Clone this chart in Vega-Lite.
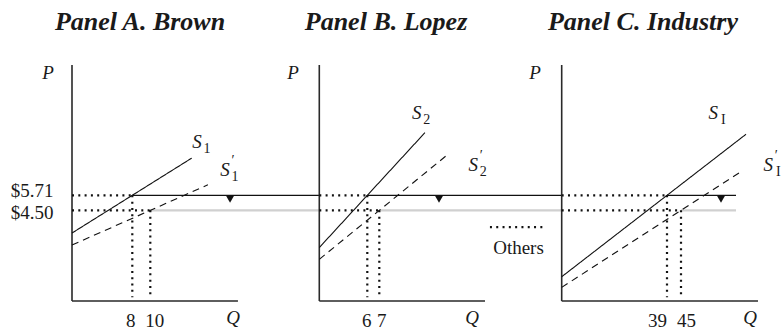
{
  "$schema": "https://vega.github.io/schema/vega-lite/v6.json",
  "width": 710,
  "height": 301,
  "autosize": {"type": "none"},
  "padding": {"left": 72, "top": 0, "right": 0, "bottom": 31},
  "background": "white",
  "config": {
    "font": "Liberation Serif",
    "view": {"stroke": null},
    "text": {"font": "Liberation Serif", "color": "#1a1a1a"},
    "axis": {"labelFont": "Liberation Serif", "labelColor": "#1a1a1a"}
  },
  "datasets": {
    "segments": [
      {"panel": "A", "kind": "subsidy", "q": 10, "p": 4.5, "q2": 28.78, "p2": 4.5},
      {"panel": "A", "kind": "axis", "q": 1.3, "p": -2.81, "q2": 1.3, "p2": 16.22},
      {"panel": "A", "kind": "axis", "q": 1.3, "p": -2.81, "q2": 19.74, "p2": -2.81},
      {"panel": "A", "kind": "price", "q": 8, "p": 5.71, "q2": 28.78, "p2": 5.71},
      {"panel": "A", "kind": "guide", "q": 1.3, "p": 5.71, "q2": 8, "p2": 5.71},
      {"panel": "A", "kind": "guide", "q": 1.3, "p": 4.5, "q2": 10, "p2": 4.5},
      {"panel": "A", "kind": "guide", "q": 8, "p": 5.71, "q2": 8, "p2": -2.5},
      {"panel": "A", "kind": "guide", "q": 10, "p": 4.5, "q2": 10, "p2": -2.5},
      {"panel": "A", "kind": "supply", "q": 1.3, "p": 2.67, "q2": 14.6, "p2": 8.71},
      {"panel": "A", "kind": "shifted", "q": 1.3, "p": 1.7, "q2": 16.4, "p2": 6.56},
      {"panel": "B", "kind": "subsidy", "q": 7, "p": 4.5, "q2": 22.225, "p2": 4.5},
      {"panel": "B", "kind": "axis", "q": 2, "p": -2.81, "q2": 2, "p2": 16.22},
      {"panel": "B", "kind": "axis", "q": 2, "p": -2.81, "q2": 15.81, "p2": -2.81},
      {"panel": "B", "kind": "price", "q": 6, "p": 5.71, "q2": 22.225, "p2": 5.71},
      {"panel": "B", "kind": "guide", "q": 2, "p": 5.71, "q2": 6, "p2": 5.71},
      {"panel": "B", "kind": "guide", "q": 2, "p": 4.5, "q2": 7, "p2": 4.5},
      {"panel": "B", "kind": "guide", "q": 6, "p": 5.71, "q2": 6, "p2": -2.5},
      {"panel": "B", "kind": "guide", "q": 7, "p": 4.5, "q2": 7, "p2": -2.5},
      {"panel": "B", "kind": "guide", "q": 16.22, "p": 3.15, "q2": 20.73, "p2": 3.15},
      {"panel": "B", "kind": "supply", "q": 2, "p": 1.5, "q2": 10.8, "p2": 10.76},
      {"panel": "B", "kind": "shifted", "q": 2, "p": 0.548, "q2": 12.7, "p2": 9.0},
      {"panel": "C", "kind": "subsidy", "q": 45, "p": 4.5, "q2": 68.57, "p2": 4.5},
      {"panel": "C", "kind": "axis", "q": -6.13, "p": -2.81, "q2": -6.13, "p2": 16.22},
      {"panel": "C", "kind": "axis", "q": -6.13, "p": -2.81, "q2": 78, "p2": -2.81},
      {"panel": "C", "kind": "price", "q": 39, "p": 5.71, "q2": 68.57, "p2": 5.71},
      {"panel": "C", "kind": "guide", "q": -6.13, "p": 5.71, "q2": 39, "p2": 5.71},
      {"panel": "C", "kind": "guide", "q": -6.13, "p": 4.5, "q2": 45, "p2": 4.5},
      {"panel": "C", "kind": "guide", "q": 39, "p": 5.71, "q2": 39, "p2": -2.5},
      {"panel": "C", "kind": "guide", "q": 45, "p": 4.5, "q2": 45, "p2": -2.5},
      {"panel": "C", "kind": "supply", "q": -6.13, "p": -0.855, "q2": 72.86, "p2": 10.635},
      {"panel": "C", "kind": "shifted", "q": -6.13, "p": -1.71, "q2": 71.57, "p2": 7.727}
    ],
    "markers": [
      {"panel": "A", "q": 18.86, "p": 5.71},
      {"panel": "B", "q": 11.975, "p": 5.71},
      {"panel": "C", "q": 62.14, "p": 5.71}
    ],
    "labels": [
      {"panel": "A", "kind": "title", "q": 8.86, "p": 19.69, "text": "Panel A. Brown"},
      {"panel": "B", "kind": "title", "q": 7.56, "p": 19.69, "text": "Panel B. Lopez"},
      {"panel": "C", "kind": "title", "q": 28.71, "p": 19.69, "text": "Panel C. Industry"},
      {"panel": "A", "kind": "axisname", "q": -1.37, "p": 15.61, "text": "P"},
      {"panel": "A", "kind": "axisname", "q": 19.19, "p": -4.19, "text": "Q"},
      {"panel": "B", "kind": "axisname", "q": -0.19, "p": 15.61, "text": "P"},
      {"panel": "B", "kind": "axisname", "q": 14.73, "p": -4.19, "text": "Q"},
      {"panel": "C", "kind": "axisname", "q": -17.57, "p": 15.61, "text": "P"},
      {"panel": "C", "kind": "axisname", "q": 74.57, "p": -4.19, "text": "Q"},
      {"panel": "A", "kind": "curve", "q": 15.19, "p": 10.01, "text": "S", "sub": "1", "prime": false},
      {"panel": "A", "kind": "curve", "q": 18.3, "p": 7.75, "text": "S", "sub": "1", "prime": true},
      {"panel": "B", "kind": "curve", "q": 10.12, "p": 12.32, "text": "S", "sub": "2", "prime": false},
      {"panel": "B", "kind": "curve", "q": 14.83, "p": 8.15, "text": "S", "sub": "2", "prime": true},
      {"panel": "C", "kind": "curve", "q": 58.84, "p": 12.32, "text": "S", "sub": "I", "prime": false},
      {"panel": "C", "kind": "curve", "q": 82.41, "p": 8.15, "text": "S", "sub": "I", "prime": true},
      {"panel": "B", "kind": "legend", "q": 18.6, "p": 1.45, "text": "Others"}
    ]
  },
  "encoding": {
    "y": {
      "field": "p", "type": "quantitative",
      "scale": {"domain": [-2.81, 21.46], "nice": false, "zero": false},
      "axis": {
        "values": [4.5, 5.71], "format": "$.2f", "domain": false, "ticks": false, "grid": false, "title": null,
        "labelFontSize": 19, "labelPadding": 19, "labelOverlap": false,
        "labelOffset": {"condition": {"test": "datum.value == 5.71", "value": -5}, "value": 2}
      }
    }
  },
  "resolve": {"scale": {"x": "independent"}, "axis": {"x": "independent"}},
  "layer": [
    {
      "encoding": {
        "x": {
          "field": "q", "type": "quantitative",
          "scale": {"domain": [1.3, 80.189], "nice": false, "zero": false},
          "axis": {
            "values": [8, 10], "orient": "bottom", "domain": false, "ticks": false, "grid": false, "title": null,
            "labelFontSize": 19, "labelPadding": 10, "labelOverlap": false, "labelFlush": false,
            "labelOffset": {"condition": {"test": "datum.value == 8", "value": -2}, "value": 4}
          }
        }
      },
      "layer": [
        {
          "data": {"name": "segments"},
          "transform": [{"filter": "datum.panel == 'A'"}],
          "mark": {"type": "rule"},
          "encoding": {
            "x2": {"field": "q2"}, "y2": {"field": "p2"},
            "color": {"field": "kind", "type": "nominal", "legend": null,
              "scale": {"type": "ordinal", "domain": ["axis", "supply", "shifted", "guide", "price", "subsidy"], "range": ["#2a2a2a", "#111111", "#111111", "#111111", "#111111", "#d0d0d0"]}},
            "strokeDash": {"field": "kind", "type": "nominal", "legend": null,
              "scale": {"type": "ordinal", "domain": ["axis", "supply", "shifted", "guide", "price", "subsidy"], "range": [[1, 0], [1, 0], [7, 5], [2, 4.3], [1, 0], [1, 0]]}},
            "strokeWidth": {"field": "kind", "type": "nominal", "legend": null,
              "scale": {"type": "ordinal", "domain": ["axis", "supply", "shifted", "guide", "price", "subsidy"], "range": [1.6, 1.1, 1.1, 2.2, 1.3, 2.2]}}
          }
        },
        {
          "data": {"name": "markers"},
          "transform": [{"filter": "datum.panel == 'A'"}],
          "mark": {"type": "point", "shape": "triangle-down", "filled": true, "color": "#111111", "opacity": 1, "size": 60, "yOffset": 4}
        },
        {
          "data": {"name": "labels"},
          "transform": [{"filter": "datum.panel == 'A' && datum.kind == 'title'"}],
          "mark": {"type": "text", "fontSize": 26, "fontStyle": "italic", "fontWeight": "bold", "baseline": "middle"},
          "encoding": {"text": {"field": "text", "type": "nominal"}}
        },
        {
          "data": {"name": "labels"},
          "transform": [{"filter": "datum.panel == 'A' && (datum.kind == 'axisname' || datum.kind == 'curve')"}],
          "mark": {"type": "text", "fontSize": 19, "fontStyle": "italic", "baseline": "middle"},
          "encoding": {"text": {"field": "text", "type": "nominal"}}
        },
        {
          "data": {"name": "labels"},
          "transform": [{"filter": "datum.panel == 'A' && datum.kind == 'curve'"}],
          "mark": {"type": "text", "fontSize": 14, "baseline": "middle", "dx": 10, "dy": 7},
          "encoding": {"text": {"field": "sub", "type": "nominal"}}
        },
        {
          "data": {"name": "labels"},
          "transform": [{"filter": "datum.panel == 'A' && datum.kind == 'curve' && datum.prime"}],
          "mark": {"type": "text", "fontSize": 14, "baseline": "middle", "dx": 8, "dy": -9, "text": "′"}
        }
      ]
    },
    {
      "encoding": {
        "x": {
          "field": "q", "type": "quantitative",
          "scale": {"domain": [-18.608, 40.558], "nice": false, "zero": false},
          "axis": {
            "values": [6, 7], "orient": "bottom", "domain": false, "ticks": false, "grid": false, "title": null,
            "labelFontSize": 19, "labelPadding": 10, "labelOverlap": false, "labelFlush": false,
            "labelOffset": {"condition": {"test": "datum.value == 6", "value": -1}, "value": 2}
          }
        }
      },
      "layer": [
        {
          "data": {"name": "segments"},
          "transform": [{"filter": "datum.panel == 'B'"}],
          "mark": {"type": "rule"},
          "encoding": {
            "x2": {"field": "q2"}, "y2": {"field": "p2"},
            "color": {"field": "kind", "type": "nominal", "legend": null,
              "scale": {"type": "ordinal", "domain": ["axis", "supply", "shifted", "guide", "price", "subsidy"], "range": ["#2a2a2a", "#111111", "#111111", "#111111", "#111111", "#d0d0d0"]}},
            "strokeDash": {"field": "kind", "type": "nominal", "legend": null,
              "scale": {"type": "ordinal", "domain": ["axis", "supply", "shifted", "guide", "price", "subsidy"], "range": [[1, 0], [1, 0], [7, 5], [2, 4.3], [1, 0], [1, 0]]}},
            "strokeWidth": {"field": "kind", "type": "nominal", "legend": null,
              "scale": {"type": "ordinal", "domain": ["axis", "supply", "shifted", "guide", "price", "subsidy"], "range": [1.6, 1.1, 1.1, 2.2, 1.3, 2.2]}}
          }
        },
        {
          "data": {"name": "markers"},
          "transform": [{"filter": "datum.panel == 'B'"}],
          "mark": {"type": "point", "shape": "triangle-down", "filled": true, "color": "#111111", "opacity": 1, "size": 60, "yOffset": 4}
        },
        {
          "data": {"name": "labels"},
          "transform": [{"filter": "datum.panel == 'B' && datum.kind == 'title'"}],
          "mark": {"type": "text", "fontSize": 26, "fontStyle": "italic", "fontWeight": "bold", "baseline": "middle"},
          "encoding": {"text": {"field": "text", "type": "nominal"}}
        },
        {
          "data": {"name": "labels"},
          "transform": [{"filter": "datum.panel == 'B' && (datum.kind == 'axisname' || datum.kind == 'curve')"}],
          "mark": {"type": "text", "fontSize": 19, "fontStyle": "italic", "baseline": "middle"},
          "encoding": {"text": {"field": "text", "type": "nominal"}}
        },
        {
          "data": {"name": "labels"},
          "transform": [{"filter": "datum.panel == 'B' && datum.kind == 'curve'"}],
          "mark": {"type": "text", "fontSize": 14, "baseline": "middle", "dx": 10, "dy": 7},
          "encoding": {"text": {"field": "sub", "type": "nominal"}}
        },
        {
          "data": {"name": "labels"},
          "transform": [{"filter": "datum.panel == 'B' && datum.kind == 'curve' && datum.prime"}],
          "mark": {"type": "text", "fontSize": 14, "baseline": "middle", "dx": 8, "dy": -9, "text": "′"}
        },
        {
          "data": {"name": "labels"},
          "transform": [{"filter": "datum.panel == 'B' && datum.kind == 'legend'"}],
          "mark": {"type": "text", "fontSize": 19, "baseline": "middle"},
          "encoding": {"text": {"field": "text", "type": "nominal"}}
        }
      ]
    },
    {
      "encoding": {
        "x": {
          "field": "q", "type": "quantitative",
          "scale": {"domain": [-216, 88.286], "nice": false, "zero": false},
          "axis": {
            "values": [39, 45], "orient": "bottom", "domain": false, "ticks": false, "grid": false, "title": null,
            "labelFontSize": 19, "labelPadding": 10, "labelOverlap": false, "labelFlush": false,
            "labelOffset": {"condition": {"test": "datum.value == 39", "value": -10}, "value": 5}
          }
        }
      },
      "layer": [
        {
          "data": {"name": "segments"},
          "transform": [{"filter": "datum.panel == 'C'"}],
          "mark": {"type": "rule"},
          "encoding": {
            "x2": {"field": "q2"}, "y2": {"field": "p2"},
            "color": {"field": "kind", "type": "nominal", "legend": null,
              "scale": {"type": "ordinal", "domain": ["axis", "supply", "shifted", "guide", "price", "subsidy"], "range": ["#2a2a2a", "#111111", "#111111", "#111111", "#111111", "#d0d0d0"]}},
            "strokeDash": {"field": "kind", "type": "nominal", "legend": null,
              "scale": {"type": "ordinal", "domain": ["axis", "supply", "shifted", "guide", "price", "subsidy"], "range": [[1, 0], [1, 0], [7, 5], [2, 4.3], [1, 0], [1, 0]]}},
            "strokeWidth": {"field": "kind", "type": "nominal", "legend": null,
              "scale": {"type": "ordinal", "domain": ["axis", "supply", "shifted", "guide", "price", "subsidy"], "range": [1.6, 1.1, 1.1, 2.2, 1.3, 2.2]}}
          }
        },
        {
          "data": {"name": "markers"},
          "transform": [{"filter": "datum.panel == 'C'"}],
          "mark": {"type": "point", "shape": "triangle-down", "filled": true, "color": "#111111", "opacity": 1, "size": 60, "yOffset": 4}
        },
        {
          "data": {"name": "labels"},
          "transform": [{"filter": "datum.panel == 'C' && datum.kind == 'title'"}],
          "mark": {"type": "text", "fontSize": 26, "fontStyle": "italic", "fontWeight": "bold", "baseline": "middle"},
          "encoding": {"text": {"field": "text", "type": "nominal"}}
        },
        {
          "data": {"name": "labels"},
          "transform": [{"filter": "datum.panel == 'C' && (datum.kind == 'axisname' || datum.kind == 'curve')"}],
          "mark": {"type": "text", "fontSize": 19, "fontStyle": "italic", "baseline": "middle"},
          "encoding": {"text": {"field": "text", "type": "nominal"}}
        },
        {
          "data": {"name": "labels"},
          "transform": [{"filter": "datum.panel == 'C' && datum.kind == 'curve'"}],
          "mark": {"type": "text", "fontSize": 14, "baseline": "middle", "dx": 10, "dy": 7},
          "encoding": {"text": {"field": "sub", "type": "nominal"}}
        },
        {
          "data": {"name": "labels"},
          "transform": [{"filter": "datum.panel == 'C' && datum.kind == 'curve' && datum.prime"}],
          "mark": {"type": "text", "fontSize": 14, "baseline": "middle", "dx": 8, "dy": -9, "text": "′"}
        }
      ]
    }
  ]
}
